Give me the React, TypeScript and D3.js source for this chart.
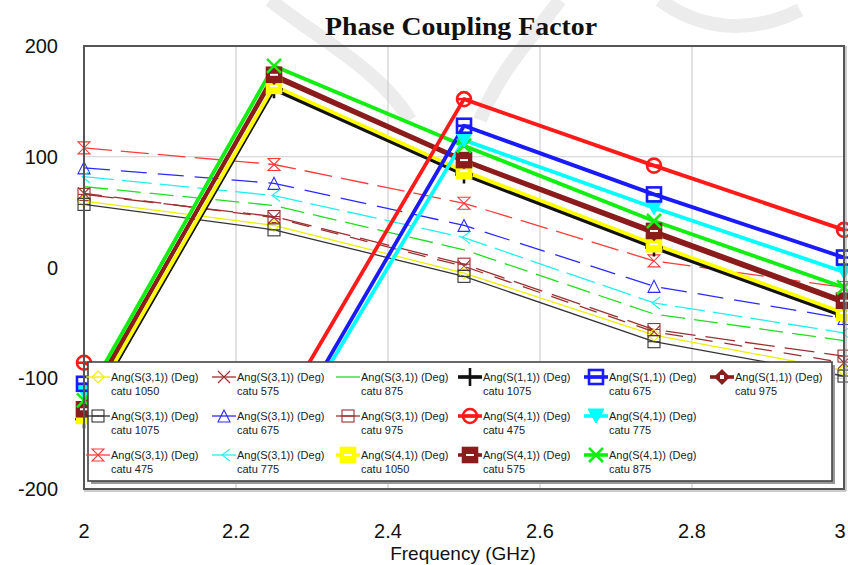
import React from "react";
import * as d3 from "d3";

const W = 848;
const H = 565;

const freqs = [2, 2.25, 2.5, 2.75, 3];
const xTicks = [2, 2.2, 2.4, 2.6, 2.8, 3];
const yTicks = [200, 100, 0, -100, -200];

// thin S(3,1) series
const s31_475 = [108, 93, 58, 6, -18];
const s31_675 = [90, 76, 38, -17, -46];
const s31_775 = [82, 65, 27, -32, -59];
const s31_875 = [73, 56, 16, -42, -66];
const s31_975 = [66, 46, 3, -56, -80];
const s31_575 = [67, 45, 1, -58, -86];
const s31_1050 = [60, 38, -5, -61, -93];
const s31_1075 = [57, 34, -8, -67, -98];

// thick series
const s11_1075 = [-137, 161, 84, 18, -44];
const s11_675 = [-105, -167, 128, 66, 9];
const s11_975 = [-126, 172, 96, 31, -32];
const s41_475 = [-86, -140, 152, 92, 34];
const s41_775 = [-112, -172, 115, 54, -4];
const s41_1050 = [-134, 164, 87, 21, -41];
const s41_575 = [-128, 174, 97, 33, -30];
const s41_875 = [-120, 182, 110, 42, -18];

const legendNames = [
  "Ang(S(3,1)) (Deg)", "Ang(S(3,1)) (Deg)", "Ang(S(3,1)) (Deg)", "Ang(S(1,1)) (Deg)", "Ang(S(1,1)) (Deg)", "Ang(S(1,1)) (Deg)",
  "Ang(S(3,1)) (Deg)", "Ang(S(3,1)) (Deg)", "Ang(S(3,1)) (Deg)", "Ang(S(4,1)) (Deg)", "Ang(S(4,1)) (Deg)",
  "Ang(S(3,1)) (Deg)", "Ang(S(3,1)) (Deg)", "Ang(S(4,1)) (Deg)", "Ang(S(4,1)) (Deg)", "Ang(S(4,1)) (Deg)",
];
const legendSubs = [
  "catu 1050", "catu 575", "catu 875", "catu 1075", "catu 675", "catu 975",
  "catu 1075", "catu 675", "catu 975", "catu 475", "catu 775",
  "catu 475", "catu 775", "catu 1050", "catu 575", "catu 875",
];

type Series = { values: number[]; color: string; thick: boolean; marker: string; dash: string; legendIndex: number };

// style table (drawing order)
const series: Series[] = [
  { values: s31_475, color: "#ff3b3b", thick: false, marker: "hourglass", dash: "28 9", legendIndex: 11 },
  { values: s31_675, color: "#2a2aff", thick: false, marker: "triUp", dash: "26 11", legendIndex: 7 },
  { values: s31_775, color: "#22f0f0", thick: false, marker: "chevron", dash: "30 8", legendIndex: 12 },
  { values: s31_875, color: "#22dd22", thick: false, marker: "none", dash: "24 9", legendIndex: 2 },
  { values: s31_975, color: "#9a3030", thick: false, marker: "squareMid", dash: "30 10", legendIndex: 8 },
  { values: s31_575, color: "#9a3030", thick: false, marker: "bowtie", dash: "18 12", legendIndex: 1 },
  { values: s31_1050, color: "#eeee00", thick: false, marker: "diamond", dash: "", legendIndex: 0 },
  { values: s31_1075, color: "#333333", thick: false, marker: "squareMid", dash: "", legendIndex: 6 },
  { values: s11_1075, color: "#111111", thick: true, marker: "plus", dash: "", legendIndex: 3 },
  { values: s41_1050, color: "#ffff00", thick: true, marker: "squareFilledMid", dash: "", legendIndex: 13 },
  { values: s11_975, color: "#8b1c1c", thick: true, marker: "diamondFilled", dash: "", legendIndex: 5 },
  { values: s41_575, color: "#8b1c1c", thick: true, marker: "squareFilledMid", dash: "", legendIndex: 14 },
  { values: s41_875, color: "#11ee11", thick: true, marker: "xThick", dash: "", legendIndex: 15 },
  { values: s41_775, color: "#00ffff", thick: true, marker: "triDownFilled", dash: "", legendIndex: 10 },
  { values: s11_675, color: "#1a1aff", thick: true, marker: "squareMid", dash: "", legendIndex: 4 },
  { values: s41_475, color: "#ff1a1a", thick: true, marker: "circleMid", dash: "", legendIndex: 9 },
];

function Marker({ type, cx, cy, color, thick }: { type: string; cx: number; cy: number; color: string; thick: boolean }) {
  const sw = thick ? 2.6 : 1.1;
  const s = thick ? 7 : 6;
  switch (type) {
    case "hourglass":
      return (
        <path d={`M${cx - s},${cy - s}H${cx + s}L${cx - s},${cy + s}H${cx + s}Z`} fill="none" stroke={color} strokeWidth={sw} />
      );
    case "triUp":
      return <path d={`M${cx},${cy - s}L${cx + s},${cy + s}H${cx - s}Z`} fill="none" stroke={color} strokeWidth={sw} />;
    case "chevron":
      return <path d={`M${cx + s},${cy - s}L${cx - 2},${cy}L${cx + s},${cy + s}`} fill="none" stroke={color} strokeWidth={sw} />;
    case "squareMid":
      return (
        <g fill="none" stroke={color} strokeWidth={sw}>
          <rect x={cx - s} y={cy - s} width={2 * s} height={2 * s} />
          <line x1={cx - s} x2={cx + s} y1={cy} y2={cy} />
        </g>
      );
    case "bowtie":
      return (
        <path d={`M${cx - s},${cy - s}L${cx + s},${cy + s}M${cx - s},${cy + s}L${cx + s},${cy - s}`} fill="none" stroke={color} strokeWidth={sw} />
      );
    case "diamond":
      return <path d={`M${cx},${cy - s}L${cx + s},${cy}L${cx},${cy + s}L${cx - s},${cy}Z`} fill="none" stroke={color} strokeWidth={sw} />;
    case "plus":
      return (
        <path d={`M${cx - s - 2},${cy}H${cx + s + 2}M${cx},${cy - s - 2}V${cy + s + 2}`} fill="none" stroke={color} strokeWidth={sw} />
      );
    case "squareFilledMid":
      return (
        <g>
          <rect x={cx - s} y={cy - s} width={2 * s} height={2 * s} fill={color} stroke={color} strokeWidth={sw} />
          <line x1={cx - s + 3} x2={cx + s - 3} y1={cy} y2={cy} stroke="#fff" strokeWidth={2} />
        </g>
      );
    case "diamondFilled":
      return (
        <g>
          <path d={`M${cx},${cy - s - 1}L${cx + s + 1},${cy}L${cx},${cy + s + 1}L${cx - s - 1},${cy}Z`} fill={color} />
          <rect x={cx - 2} y={cy - 2} width={4} height={4} fill="#fff" />
        </g>
      );
    case "xThick":
      return (
        <path d={`M${cx - s},${cy - s}L${cx + s},${cy + s}M${cx - s},${cy + s}L${cx + s},${cy - s}`} fill="none" stroke={color} strokeWidth={sw} />
      );
    case "triDownFilled":
      return <path d={`M${cx - s - 1},${cy - s}H${cx + s + 1}L${cx},${cy + s}Z`} fill={color} stroke={color} strokeWidth={1} />;
    case "circleMid":
      return (
        <g fill="none" stroke={color} strokeWidth={sw}>
          <circle cx={cx} cy={cy} r={s} />
          <line x1={cx - s} x2={cx + s} y1={cy} y2={cy} />
        </g>
      );
    default:
      return null;
  }
}

export default function App() {
  const left = 84, right = 844, top = 46, bottom = 489;
  const x = d3.scaleLinear().domain([2, 3]).range([left, right]);
  const y = d3.scaleLinear().domain([-200, 200]).range([bottom, top]);
  const line = d3
    .line<number>()
    .x((_, i) => x(freqs[i]))
    .y((d) => y(d));

  // legend geometry
  const lgX0 = 88, lgY0 = 362, lgX1 = 832, lgY1 = 481;
  const colSym = [98, 224, 348, 470, 596, 722];
  const rowY = [377, 416, 455];
  const legendOrder = d3.range(legendNames.length);

  return (
    <svg width={W} height={H} style={{ position: "absolute", left: 0, top: 0, background: "#fff" }}>
      <rect x={0} y={0} width={W} height={H} fill="#fff" />
      {/* faint watermark */}
      <g fill="none" stroke="#ececec" strokeWidth={14}>
        <path d="M270,0 C320,40 380,70 410,120" />
        <path d="M560,0 C530,40 500,70 480,120" />
        <path d="M660,0 C700,30 750,35 800,10" />
      </g>
      <text x={461} y={35} textAnchor="middle" fontFamily="Liberation Serif, serif" fontWeight="bold" fontSize={25} textLength={272} lengthAdjust="spacingAndGlyphs" fill="#111">
        Phase Coupling Factor
      </text>

      {/* grid */}
      <g stroke="#cfcfcf" strokeWidth={1.2}>
        {xTicks.slice(1, -1).map((t) => (
          <line key={"gx" + t} x1={x(t)} x2={x(t)} y1={top} y2={bottom} />
        ))}
        {[100, -100].map((t) => (
          <line key={"gy" + t} x1={left} x2={right} y1={y(t)} y2={y(t)} />
        ))}
      </g>

      <defs>
        <clipPath id="plotclip">
          <rect x={left} y={top} width={right - left} height={bottom - top} />
        </clipPath>
      </defs>

      <g clipPath="url(#plotclip)">
        {series.map((s, i) => (
          <path
            key={"l" + i}
            d={line(s.values) || ""}
            fill="none"
            stroke={s.color}
            strokeWidth={s.thick ? 3.8 : 1.3}
            strokeDasharray={s.dash || undefined}
            strokeLinejoin="round"
          />
        ))}
      </g>
      <g>
        {series.map((s, i) =>
          s.values.map((v, j) => (
            <Marker key={"m" + i + "-" + j} type={s.marker} cx={x(freqs[j])} cy={y(v)} color={s.color} thick={s.thick} />
          ))
        )}
      </g>

      {/* frame */}
      <rect x={left} y={top} width={right - left} height={bottom - top} fill="none" stroke="#555" strokeWidth={2} />
      <line x1={right + 2} x2={right + 2} y1={top} y2={bottom + 2} stroke="#999" strokeWidth={1} />
      <line x1={left} x2={right + 2} y1={bottom + 2} y2={bottom + 2} stroke="#999" strokeWidth={1} />

      {/* legend */}
      <rect x={lgX0 + 3} y={lgY0 + 3} width={lgX1 - lgX0} height={lgY1 - lgY0} fill="#999" />
      <rect x={lgX0} y={lgY0} width={lgX1 - lgX0} height={lgY1 - lgY0} fill="#fff" stroke="#444" strokeWidth={1.6} />
      {legendOrder.map((k) => {
        const s = series.find((q) => q.legendIndex === k)!;
        const col = k < 6 ? k : k < 11 ? k - 6 : k - 11;
        const row = k < 6 ? 0 : k < 11 ? 1 : 2;
        const cx = colSym[col];
        const cy = rowY[row];
        return (
          <g key={"lg" + k}>
            <line x1={cx - 12} x2={cx + 12} y1={cy} y2={cy} stroke={s.color} strokeWidth={s.thick ? 3.6 : 1.3} />
            <Marker type={s.marker} cx={cx} cy={cy} color={s.color} thick={s.thick} />
            <text x={cx + 13} y={cy + 4} fontFamily="Liberation Sans, Arial, sans-serif" fontSize={11} fill="#222">
              {legendNames[k]}
            </text>
            <text x={cx + 13} y={cy + 18} fontFamily="Liberation Sans, Arial, sans-serif" fontSize={11} fill="#222">
              {legendSubs[k]}
            </text>
          </g>
        );
      })}

      {/* axes labels */}
      {yTicks.map((t) => (
        <text key={"yt" + t} x={58} y={y(t) + 7} textAnchor="end" fontFamily="Liberation Sans, Arial, sans-serif" fontSize={20} fill="#111">
          {t}
        </text>
      ))}
      {xTicks.map((t) => (
        <text
          key={"xt" + t}
          x={Math.min(x(t), 840)}
          y={538}
          textAnchor="middle"
          fontFamily="Liberation Sans, Arial, sans-serif"
          fontSize={20}
          fill="#111"
        >
          {d3.format("")(t)}
        </text>
      ))}
      <text x={463} y={560} textAnchor="middle" fontFamily="Liberation Sans, Arial, sans-serif" fontSize={19} fill="#111">
        Frequency (GHz)
      </text>
    </svg>
  );
}
